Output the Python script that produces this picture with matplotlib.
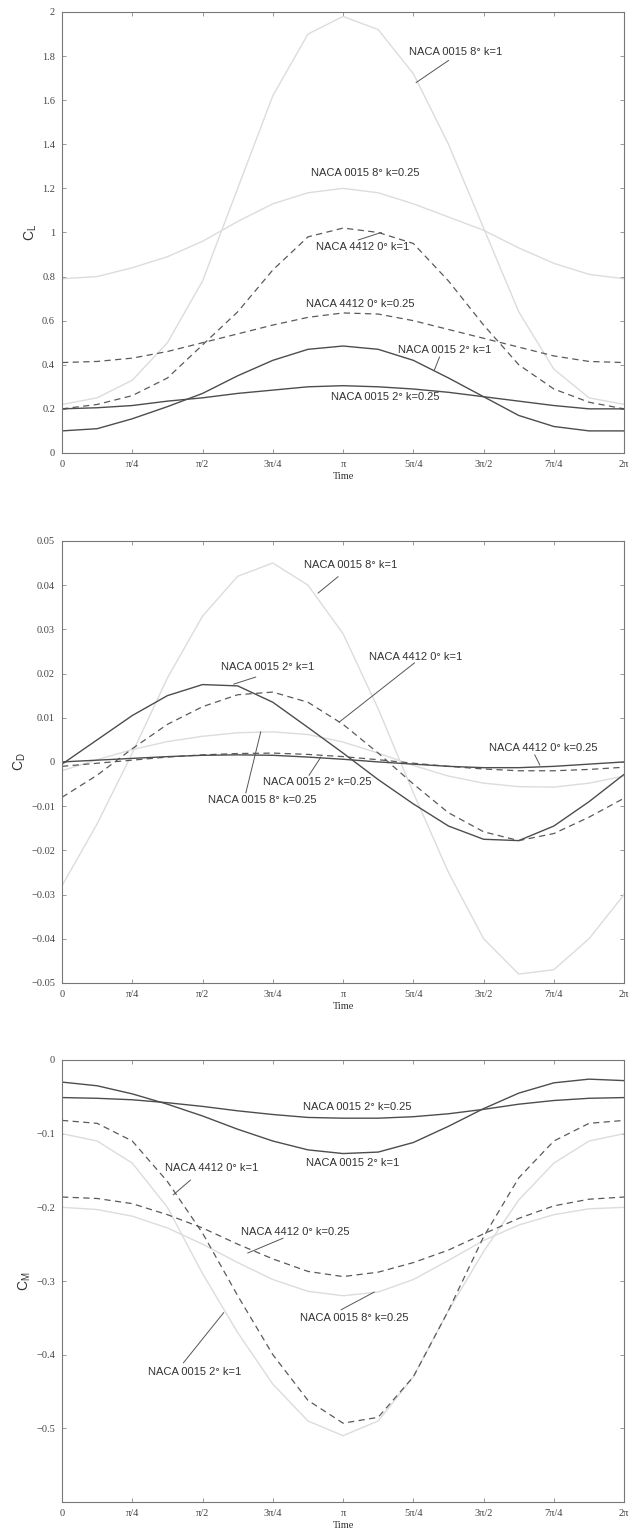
import numpy as np
import matplotlib
matplotlib.use("Agg")
import matplotlib.pyplot as plt
from matplotlib.ticker import FuncFormatter

# phase values in units of pi, read every pi/8
t_pi = [0, 0.125, 0.25, 0.375, 0.5, 0.625, 0.75, 0.875, 1.0,
        1.125, 1.25, 1.375, 1.5, 1.625, 1.75, 1.875, 2.0]

x_ticklabels = ["0", "π/4", "π/2", "3π/4", "π", "5π/4", "3π/2", "7π/4", "2π"]

# ---- lift coefficient ----
cl_0015_2_k1 = [0.10, 0.11, 0.155, 0.21, 0.27, 0.35, 0.42, 0.47, 0.485,
                0.47, 0.42, 0.34, 0.255, 0.17, 0.12, 0.10, 0.10]
cl_0015_2_k025 = [0.20, 0.205, 0.215, 0.235, 0.25, 0.27, 0.285, 0.30, 0.305,
                  0.30, 0.29, 0.275, 0.255, 0.235, 0.215, 0.20, 0.20]
cl_4412_0_k1 = [0.20, 0.22, 0.26, 0.34, 0.49, 0.64, 0.83, 0.98, 1.02,
                1.00, 0.95, 0.78, 0.58, 0.40, 0.29, 0.23, 0.20]
cl_4412_0_k025 = [0.41, 0.415, 0.43, 0.46, 0.50, 0.54, 0.58, 0.615, 0.635,
                  0.63, 0.60, 0.56, 0.52, 0.48, 0.44, 0.415, 0.41]
cl_0015_8_k1 = [0.22, 0.25, 0.33, 0.50, 0.78, 1.20, 1.62, 1.90, 1.98,
                1.92, 1.72, 1.40, 1.02, 0.64, 0.38, 0.25, 0.22]
cl_0015_8_k025 = [0.79, 0.80, 0.84, 0.89, 0.96, 1.05, 1.13, 1.18, 1.20,
                  1.18, 1.13, 1.07, 1.01, 0.93, 0.86, 0.81, 0.79]

# ---- drag coefficient ----
cd_0015_2_k1 = [-0.0005, 0.005, 0.0105, 0.015, 0.0175, 0.0172, 0.0135, 0.0078, 0.002,
                -0.004, -0.0095, -0.0145, -0.0175, -0.0178, -0.0145, -0.009, -0.0028]
cd_0015_2_k025 = [0.0, 0.0004, 0.0008, 0.0012, 0.0015, 0.0016, 0.0015, 0.0011, 0.0006,
                  0.0, -0.0005, -0.001, -0.0013, -0.0013, -0.001, -0.0005, 0.0]
cd_4412_0_k1 = [-0.008, -0.003, 0.003, 0.0085, 0.0125, 0.0152, 0.0158, 0.0135, 0.0085,
                0.002, -0.005, -0.0115, -0.0158, -0.0178, -0.0162, -0.0125, -0.0082]
cd_4412_0_k025 = [-0.001, -0.0003, 0.0004, 0.0011, 0.0016, 0.0019, 0.002, 0.0017, 0.0012,
                  0.0005, -0.0003, -0.001, -0.0016, -0.002, -0.002, -0.0017, -0.0012]
cd_0015_8_k1 = [-0.028, -0.014, 0.002, 0.019, 0.033, 0.042, 0.045, 0.040, 0.029,
                0.012, -0.007, -0.025, -0.040, -0.048, -0.047, -0.040, -0.030]
cd_0015_8_k025 = [-0.002, 0.0005, 0.0028, 0.0046, 0.0058, 0.0066, 0.0068, 0.0062, 0.0045,
                  0.002, -0.0008, -0.0032, -0.0048, -0.0056, -0.0057, -0.0048, -0.0032]

# ---- moment coefficient ----
cm_0015_2_k1 = [-0.030, -0.035, -0.046, -0.060, -0.076, -0.094, -0.110, -0.122, -0.127,
                -0.125, -0.112, -0.090, -0.066, -0.045, -0.031, -0.026, -0.028]
cm_0015_2_k025 = [-0.051, -0.052, -0.054, -0.058, -0.063, -0.069, -0.074, -0.078, -0.079,
                  -0.079, -0.077, -0.073, -0.067, -0.060, -0.055, -0.052, -0.051]
cm_4412_0_k1 = [-0.082, -0.086, -0.110, -0.165, -0.235, -0.320, -0.400, -0.462, -0.493,
                -0.485, -0.430, -0.340, -0.240, -0.160, -0.110, -0.086, -0.082]
cm_4412_0_k025 = [-0.186, -0.188, -0.195, -0.210, -0.228, -0.250, -0.270, -0.287, -0.294,
                  -0.288, -0.275, -0.258, -0.236, -0.215, -0.198, -0.189, -0.186]
cm_0015_8_k1 = [-0.10, -0.11, -0.14, -0.20, -0.29, -0.37, -0.44, -0.49, -0.51,
                -0.49, -0.43, -0.34, -0.26, -0.19, -0.14, -0.11, -0.10]
cm_0015_8_k025 = [-0.200, -0.203, -0.212, -0.228, -0.250, -0.275, -0.298, -0.314, -0.320,
                  -0.315, -0.298, -0.272, -0.245, -0.224, -0.210, -0.202, -0.200]

# label text, text anchor (t/pi, value), leader line (start, end) or None
cl_labels = [
    ("NACA 0015 8° k=1", (1.236, 1.82), ((1.375, 1.78), (1.26, 1.68))),
    ("NACA 0015 8° k=0.25", (0.886, 1.27), None),
    ("NACA 4412 0° k=1", (0.904, 0.934), ((1.054, 0.966), (1.136, 1.0))),
    ("NACA 4412 0° k=0.25", (0.868, 0.676), None),
    ("NACA 0015 2° k=1", (1.196, 0.467), ((1.343, 0.435), (1.325, 0.376))),
    ("NACA 0015 2° k=0.25", (0.957, 0.254), None),
]
cd_labels = [
    ("NACA 0015 8° k=1", (0.861, 0.0446), ((0.982, 0.0419), (0.911, 0.0382))),
    ("NACA 0015 2° k=1", (0.564, 0.0215), ((0.689, 0.0192), (0.611, 0.0176))),
    ("NACA 4412 0° k=1", (1.093, 0.0238), ((1.254, 0.0224), (0.986, 0.009))),
    ("NACA 4412 0° k=0.25", (1.518, 0.0032), ((1.682, 0.0016), (1.70, -0.0007))),
    ("NACA 0015 2° k=0.25", (0.714, -0.0045), ((0.879, -0.003), (0.921, 0.0011))),
    ("NACA 0015 8° k=0.25", (0.521, -0.0086), ((0.654, -0.007), (0.707, 0.0068))),
]
cm_labels = [
    ("NACA 0015 2° k=0.25", (0.857, -0.064), None),
    ("NACA 0015 2° k=1", (0.868, -0.140), None),
    ("NACA 4412 0° k=1", (0.368, -0.147), ((0.457, -0.163), (0.396, -0.183))),
    ("NACA 4412 0° k=0.25", (0.636, -0.233), ((0.786, -0.242), (0.661, -0.262))),
    ("NACA 0015 8° k=0.25", (0.846, -0.350), ((0.993, -0.339), (1.111, -0.315))),
    ("NACA 0015 2° k=1", (0.307, -0.423), ((0.432, -0.411), (0.575, -0.343))),
]

DARK = "#4d4d4d"
DASH = "#5a5a5a"
LIGHT = "#dcdcdc"
SERIF = "Liberation Serif"
SANS = "Liberation Sans"

t = np.array(t_pi) * np.pi


def style_axes(ax, ylim, yticks, ylabel, yfmt):
    ax.set_xlim(0, 2 * np.pi)
    ax.set_ylim(*ylim)
    ax.set_xticks(np.arange(9) * np.pi / 4)
    ax.set_xticklabels(x_ticklabels, family=SERIF, fontsize=7.5)
    ax.set_yticks(yticks)
    ax.yaxis.set_major_formatter(FuncFormatter(yfmt))
    for lab in ax.get_yticklabels():
        lab.set_family(SERIF)
        lab.set_fontsize(7.5)
    ax.tick_params(direction="in", length=3, width=0.6, color="#888888",
                   top=True, right=True, labelcolor="#444444", pad=5)
    for s in ax.spines.values():
        s.set_color("#777777")
        s.set_linewidth(0.8)
    ax.set_xlabel("Time", family=SERIF, fontsize=7.5, color="#333333", labelpad=2)
    ax.set_ylabel(ylabel, family=SANS, fontsize=10, color="#333333", labelpad=2)


def draw(ax, s2k1, s2k025, s4k1, s4k025, s8k1, s8k025, labels):
    ax.plot(t, s8k1, color=LIGHT, lw=1.0)
    ax.plot(t, s8k025, color=LIGHT, lw=1.0)
    ax.plot(t, s4k1, color=DASH, lw=0.9, dashes=(5, 3.5))
    ax.plot(t, s4k025, color=DASH, lw=0.9, dashes=(5, 3.5))
    ax.plot(t, s2k1, color=DARK, lw=1.0)
    ax.plot(t, s2k025, color=DARK, lw=1.0)
    for text, (tx, ty), lead in labels:
        ax.text(tx * np.pi, ty, text, family=SANS, fontsize=8, color="#333333",
                ha="left", va="center")
        if lead is not None:
            (x0, y0), (x1, y1) = lead
            ax.plot([x0 * np.pi, x1 * np.pi], [y0, y1], color="#555555", lw=0.7)


def plain(v, pos):
    s = ("%g" % round(v, 3))
    return s.replace("-", "−")


fig = plt.figure(figsize=(6.33, 15.38), dpi=100)
ax1 = fig.add_axes([0.098, 0.7055, 0.888, 0.2867])
ax2 = fig.add_axes([0.098, 0.3609, 0.888, 0.2874])
ax3 = fig.add_axes([0.098, 0.0234, 0.888, 0.2874])

draw(ax1, cl_0015_2_k1, cl_0015_2_k025, cl_4412_0_k1, cl_4412_0_k025,
     cl_0015_8_k1, cl_0015_8_k025, cl_labels)
style_axes(ax1, (0, 2), np.arange(0, 2.01, 0.2), r"$\mathregular{C_L}$", plain)

draw(ax2, cd_0015_2_k1, cd_0015_2_k025, cd_4412_0_k1, cd_4412_0_k025,
     cd_0015_8_k1, cd_0015_8_k025, cd_labels)
style_axes(ax2, (-0.05, 0.05), np.arange(-0.05, 0.0501, 0.01), r"$\mathregular{C_D}$", plain)

draw(ax3, cm_0015_2_k1, cm_0015_2_k025, cm_4412_0_k1, cm_4412_0_k025,
     cm_0015_8_k1, cm_0015_8_k025, cm_labels)
style_axes(ax3, (-0.6, 0), [-0.5, -0.4, -0.3, -0.2, -0.1, 0], r"$\mathregular{C_M}$", plain)

fig.savefig("out.png", dpi=100)
